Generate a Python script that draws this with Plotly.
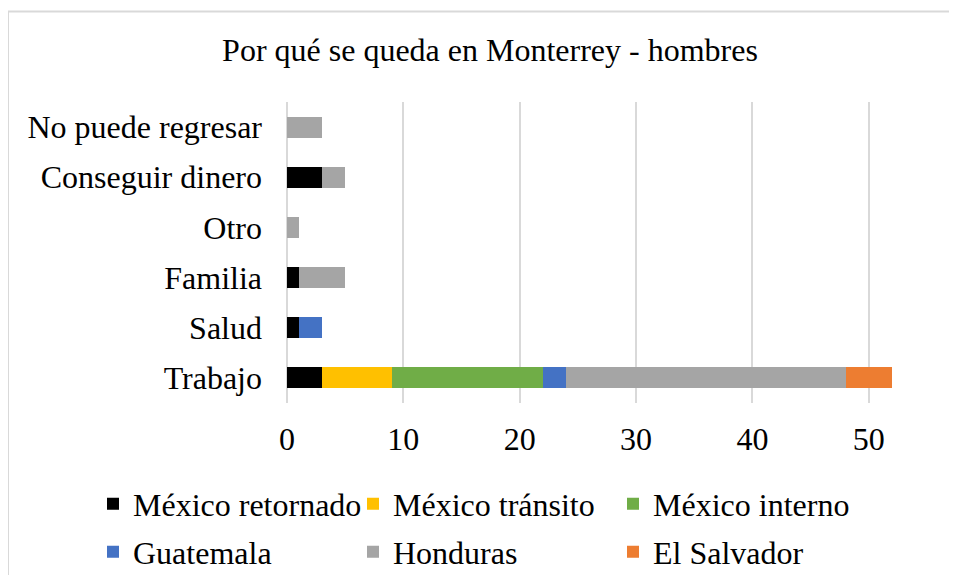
import plotly.graph_objects as go

categories = ["Trabajo", "Salud", "Familia", "Otro", "Conseguir dinero", "No puede regresar"]
mexico_retornado = [3, 1, 1, 0, 3, 0]
mexico_transito = [6, 0, 0, 0, 0, 0]
mexico_interno = [13, 0, 0, 0, 0, 0]
guatemala = [2, 2, 0, 0, 0, 0]
honduras = [24, 0, 4, 1, 2, 3]
el_salvador = [4, 0, 0, 0, 0, 0]

series = [
    ("México retornado", mexico_retornado, "#000000", "legend"),
    ("México tránsito", mexico_transito, "#FFC000", "legend"),
    ("México interno", mexico_interno, "#70AD47", "legend"),
    ("Guatemala", guatemala, "#4472C4", "legend2"),
    ("Honduras", honduras, "#A5A5A5", "legend2"),
    ("El Salvador", el_salvador, "#ED7D31", "legend2"),
]

FONT = "Liberation Serif, Times New Roman, serif"

fig = go.Figure()
for name, vals, color, lg in series:
    fig.add_trace(go.Bar(
        y=categories, x=vals, name=name, orientation="h",
        marker=dict(color=color, line=dict(width=0)),
        legend=lg, hoverinfo="x+name",
    ))

# page body has an 8px margin, so figure fits inside the window
W, H = 941, 567
ml, mr, mt, mb = 279, 22, 94, 172
pw, ph = W - ml - mr, H - mt - mb

def px_x(x):
    return (x - ml) / pw

def px_y(y):
    return (H - mb - y) / ph

fig.update_layout(
    width=W, height=H,
    margin=dict(l=ml, r=mr, t=mt, b=mb, pad=0, autoexpand=False),
    barmode="stack",
    bargap=0.58,
    paper_bgcolor="white",
    plot_bgcolor="white",
    font=dict(family=FONT, size=32, color="#000000"),
    title=dict(text="Por qué se queda en Monterrey - hombres",
               x=482 / W, xanchor="center", y=1 - 42 / H, yanchor="middle",
               font=dict(family=FONT, size=32, color="#000000")),
    xaxis=dict(range=[0, 55], dtick=10, tick0=0, showgrid=True,
               gridcolor="#D9D9D9", gridwidth=1.5, zeroline=True,
               zerolinecolor="#D9D9D9", zerolinewidth=2,
               showline=False, ticks="", ticklabelstandoff=14,
               automargin=False,
               tickfont=dict(family=FONT, size=32, color="#000000")),
    yaxis=dict(showgrid=False, zeroline=False, showline=False, ticks="",
               ticklabelstandoff=24, automargin=False,
               tickfont=dict(family=FONT, size=32, color="#000000")),
    legend=dict(orientation="h", x=px_x(85), xanchor="left",
                y=px_y(496), yanchor="middle", entrywidth=215,
                entrywidthmode="pixels", traceorder="normal",
                font=dict(family=FONT, size=32, color="#000000"),
                bgcolor="rgba(0,0,0,0)"),
    legend2=dict(orientation="h", x=px_x(85), xanchor="left",
                 y=px_y(544), yanchor="middle", entrywidth=215,
                 entrywidthmode="pixels", traceorder="normal",
                 font=dict(family=FONT, size=32, color="#000000"),
                 bgcolor="rgba(0,0,0,0)"),
    shapes=[dict(type="rect", xref="paper", yref="paper",
                 x0=px_x(0), x1=px_x(1000), y0=px_y(640), y1=px_y(3.5),
                 line=dict(color="#D9D9D9", width=2), fillcolor="rgba(0,0,0,0)",
                 layer="below")],
)

fig.write_html("out.html")
